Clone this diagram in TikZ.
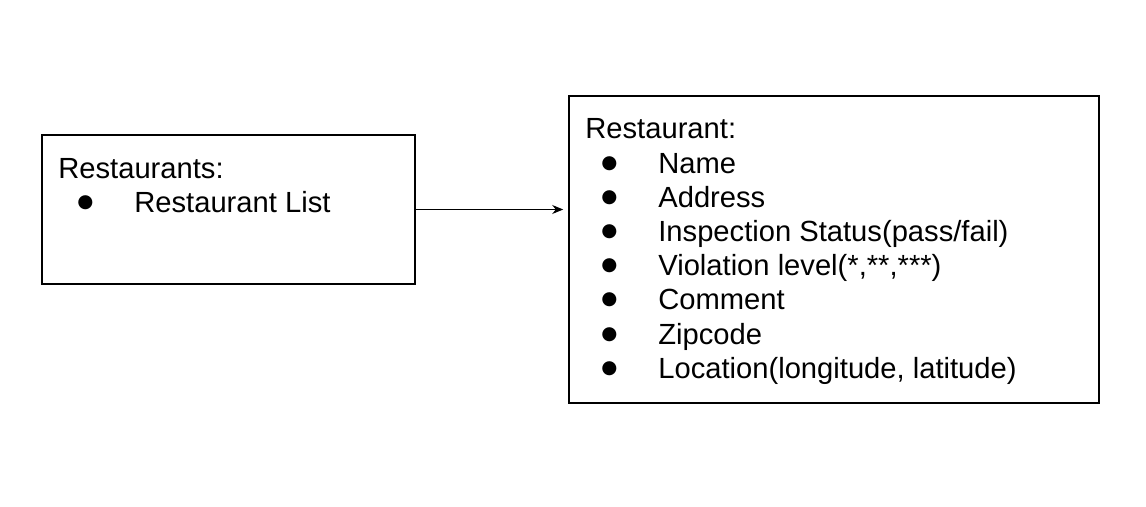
\documentclass[tikz,border=0pt]{standalone}
\usepackage{fontspec}
\setmainfont{Liberation Sans}
\newfontfamily\dejavu{DejaVu Sans}
\usetikzlibrary{arrows.meta, positioning, fit}

\newcommand{\bul}{\makebox[1.14cm][l]{\raisebox{2.8pt}{\dejavu\fontsize{10.5}{10.5}\selectfont ●}}}

\begin{document}
\begin{tikzpicture}[
  x=0.02cm, y=-0.02cm,
  box/.style={rectangle, draw, line width=0.9pt, inner sep=0pt},
  entry/.style={font=\fontsize{16.6}{19.5}\selectfont, inner sep=0pt, anchor=base west},
  arrow/.style={-{Stealth[length=2.2mm, width=1.8mm]}, line width=0.6pt}
]
  \useasboundingbox (0,0) rectangle (1146,507);
  \node[box, fit={(42,135) (415,284)}] (list) {};
  \node[box, fit={(569,96) (1099,403)}] (rest) {};

  % left box
  \node[entry] (listhead) at (58,178) {Restaurants:};
  \node[entry] (listitem) at (77,212) {\bul Restaurant List};

  % right box
  \node[entry] (resthead) at (585,138) {Restaurant:};
  \foreach \t [count=\i] in {Name, Address, Inspection Status(pass/fail),
      {Violation level(*,**,***)}, Comment, Zipcode, {Location(longitude, latitude)}}
    \node[entry] (item\i) at (601,{173+34.2*(\i-1)}) {\bul \t};

  \draw[arrow, shorten >=0.1cm] (list.east) -- (list.east -| rest.west);
\end{tikzpicture}
\end{document}
